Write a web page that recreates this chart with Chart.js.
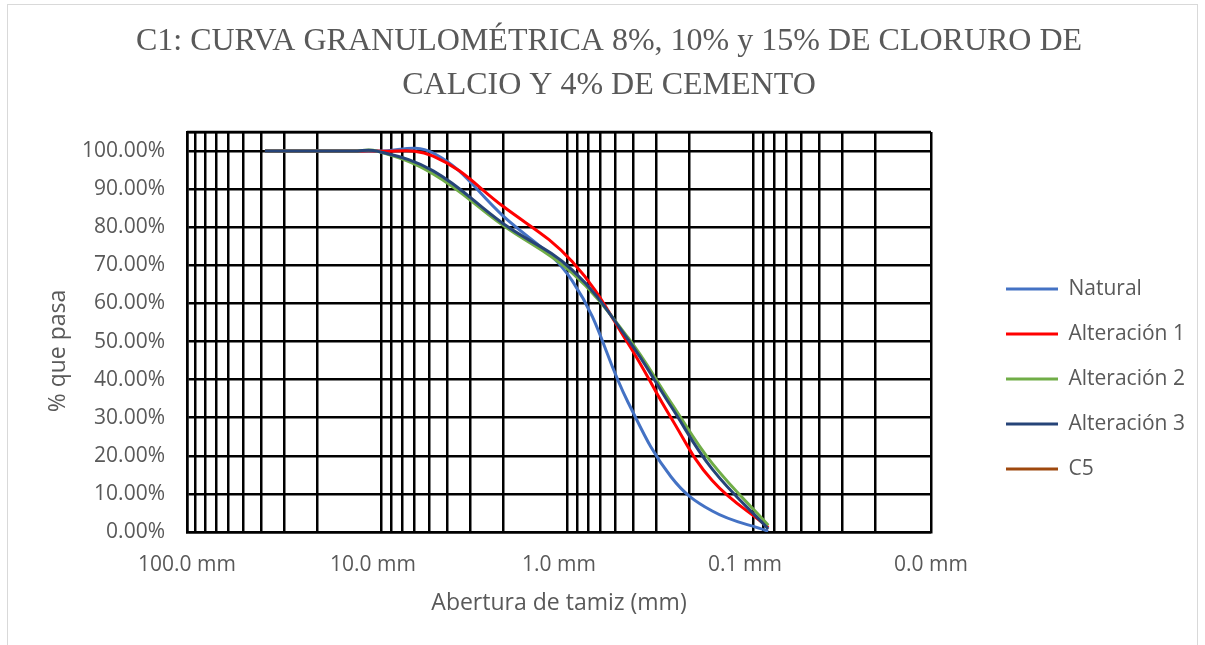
<!DOCTYPE html>
<html lang="es">
<head>
<meta charset="utf-8">
<title>Curva granulométrica</title>
<script src="https://cdn.jsdelivr.net/npm/chart.js@4.4.1/dist/chart.umd.min.js"></script>
<style>
    html, body { margin: 0; padding: 0; background: #ffffff; }
    #wrap { position: relative; width: 1205px; height: 645px; }
</style>
</head>
<body>
<div id="wrap"><canvas id="granChart"></canvas></div>
<script>
// Abertura de tamiz (mm)
const sieves = [38.1, 25.4, 19.05, 12.7, 9.525, 4.75, 2.0, 0.85, 0.425, 0.25, 0.15, 0.075];

// % que pasa
const natural     = [100, 100, 100, 100, 100, 99.5, 83.0, 66.0, 34.0, 14.5, 5.5, 0.2];
const alteracion1 = [100, 100, 100, 100, 100, 98.7, 85.5, 71.0, 49.5, 30.0, 13.5, 1.2];
const alteracion2 = [100, 100, 100, 100, 100, 94.0, 80.5, 68.0, 51.0, 34.0, 18.0, 1.8];
const alteracion3 = [100, 100, 100, 100, 100, 94.8, 81.0, 68.8, 50.5, 33.0, 16.5, 0.8];
const c5 = [];

// Axis ticks
const xTickValues = [100, 10, 1, 0.1, 0.01];
const xTickLabels = ['100.0 mm', '10.0 mm', '1.0 mm', '0.1 mm', '0.0 mm'];
const yTickValues = [0, 10, 20, 30, 40, 50, 60, 70, 80, 90, 100];
const yMax = 105;
const yTitle = '% que pasa';

const textGrey = '#595959';
const sansFont = "'Open Sans', 'Noto Sans', sans-serif";

function toPoints(values) {
    return values.map((v, i) => ({ x: sieves[i], y: v }));
}

function isDecade(v) {
    return xTickValues.some(d => Math.abs(v / d - 1) < 1e-6);
}

// Log grid: 1..9 times each decade
function logGridValues() {
    const vals = [];
    xTickValues.slice(1).forEach(base => {
        for (let k = 1; k <= 9; k++) vals.push(parseFloat((k * base).toPrecision(6)));
    });
    vals.push(xTickValues[0]);
    return vals.sort((a, b) => a - b);
}

// Frame around the whole chart (Excel chart border)
const frame = {
    id: 'frame',
    beforeDraw(chart) {
        const c = chart.ctx;
        c.save();
        c.fillStyle = '#ffffff';
        c.fillRect(0, 0, chart.width, chart.height);
        c.strokeStyle = '#d9d9d9';
        c.lineWidth = 1;
        c.strokeRect(7.5, 4.5, 1190, 660);
        c.restore();
    },
    // top edge of plot area stays solid, y title sits a bit low like in Excel
    beforeDatasetsDraw(chart) {
        const c = chart.ctx, a = chart.chartArea;
        c.save();
        c.strokeStyle = '#000000';
        c.lineWidth = 2.5;
        c.beginPath();
        c.moveTo(a.left, a.top);
        c.lineTo(a.right, a.top);
        c.stroke();
        c.translate(58, a.top + (a.bottom - a.top) / 2 + 19);
        c.rotate(-Math.PI / 2);
        c.fillStyle = textGrey;
        c.font = "23px " + sansFont;
        c.textAlign = 'center';
        c.textBaseline = 'middle';
        c.fillText(yTitle, 0, 0);
        c.restore();
    }
};

// Move the legend block to where Excel put it
const legendPlace = {
    id: 'legendPlace',
    afterLayout(chart) {
        const lg = chart.legend;
        const pad = lg.options.labels.padding;
        const w = lg.width, h = lg.height;
        lg.left = 1006 - pad;
        lg.right = lg.left + w;
        lg.top = 278.5 - pad;
        lg.bottom = lg.top + h;
    }
};

function lineSet(label, values, color) {
    return {
        label: label,
        data: toPoints(values),
        borderColor: color,
        backgroundColor: color,
        borderWidth: 3,
        pointRadius: 0,
        pointHoverRadius: 0,
        pointBorderWidth: 3,
        tension: 0.4,
        fill: false
    };
}

document.addEventListener('DOMContentLoaded', () => {
    const ctx = document.getElementById('granChart').getContext('2d');
    new Chart(ctx, {
        type: 'line',
        data: {
            datasets: [
                Object.assign(lineSet('Natural', natural, '#4472C4'), { order: 4 }),
                Object.assign(lineSet('Alteración 1', alteracion1, '#FF0000'), { order: 3 }),
                Object.assign(lineSet('Alteración 2', alteracion2, '#70AD47'), { order: 2 }),
                Object.assign(lineSet('Alteración 3', alteracion3, '#264478'), { order: 1 }),
                Object.assign(lineSet('C5', c5, '#9E480E'), { order: 0 })
            ]
        },
        options: {
            responsive: true,
            maintainAspectRatio: false,
            animation: false,
            layout: { padding: { top: 0, right: 0, bottom: 0, left: 13 } },
            scales: {
                x: {
                    type: 'logarithmic',
                    position: 'bottom',
                    reverse: true,
                    min: 0.01,
                    max: 100,
                    afterBuildTicks: (scale) => {
                        scale.ticks = logGridValues().map(v => ({ value: v }));
                    },
                    afterFit: (scale) => {
                        scale.height = 113;
                        scale.paddingRight = 274; // room for the legend
                    },
                    ticks: {
                        autoSkip: false,
                        maxRotation: 0,
                        padding: 20,
                        color: textGrey,
                        font: { family: sansFont, size: 21 },
                        callback: (value) => {
                            const i = xTickValues.findIndex(d => Math.abs(value / d - 1) < 1e-6);
                            return i >= 0 ? xTickLabels[i] : '';
                        }
                    },
                    grid: {
                        drawTicks: false,
                        lineWidth: (c) => {
                            const v = c.tick ? c.tick.value : 0;
                            return isDecade(v) && v !== 100 && v !== 0.01 ? 3 : 2.5;
                        },
                        color: (c) => {
                            const v = c.tick ? c.tick.value : 0;
                            if (Math.abs(v - 100) < 1e-6 || Math.abs(v - 0.01) < 1e-9) return '#000000';
                            return isDecade(v) ? '#ffffff' : '#000000';
                        }
                    },
                    border: { display: true, color: '#000000', width: 2.5 },
                    title: {
                        display: true,
                        text: 'Abertura de tamiz (mm)',
                        color: textGrey,
                        font: { family: sansFont, size: 23 },
                        padding: { top: 0, bottom: 28 }
                    }
                },
                y: {
                    min: 0,
                    max: yMax,
                    z: -1,
                    afterBuildTicks: (scale) => {
                        scale.ticks = yTickValues.concat([yMax]).map(v => ({ value: v }));
                    },
                    afterFit: (scale) => { scale.width = 174; },
                    ticks: {
                        padding: 22,
                        color: textGrey,
                        font: { family: sansFont, size: 21 },
                        callback: (value) => value > 100 ? '' : value.toFixed(2) + '%'
                    },
                    grid: {
                        drawTicks: false,
                        lineWidth: 2.5,
                        color: '#000000'
                    },
                    border: { display: true, color: '#000000', width: 2.5 },
                    title: { display: false }
                }
            },
            plugins: {
                title: {
                    display: true,
                    text: ['C1: CURVA GRANULOMÉTRICA 8%, 10% y 15% DE CLORURO DE', 'CALCIO Y 4% DE CEMENTO'],
                    color: textGrey,
                    font: { family: "'Liberation Serif', 'Times New Roman', serif", size: 32, weight: 'normal', lineHeight: 1.36 },
                    padding: { top: 20, bottom: 25 }
                },
                legend: {
                    position: 'right',
                    align: 'start',
                    labels: {
                        usePointStyle: true,
                        pointStyle: 'line',
                        pointStyleWidth: 52,
                        padding: 24,
                        color: textGrey,
                        font: { family: sansFont, size: 21 },
                        sort: (a, b) => a.datasetIndex - b.datasetIndex
                    }
                },
                tooltip: { enabled: false }
            }
        },
        plugins: [frame, legendPlace]
    });
});
</script>
</body>
</html>
